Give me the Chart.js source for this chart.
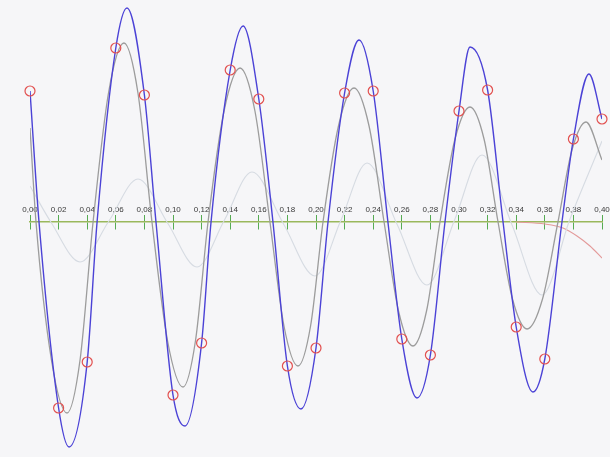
<!DOCTYPE html>
<html>
<head>
<meta charset="utf-8">
<script src="https://cdn.jsdelivr.net/npm/chart.js@4"></script>
<style>
  html, body { margin: 0; padding: 0; background: #f6f6f8; }
  #wrap { width: 610px; height: 457px; position: relative; }
</style>
</head>
<body>
<div id="wrap"><canvas id="c"></canvas></div>
<script>
// Tick labels of the time axis
const tickLabels = ['0,00','0,02','0,04','0,06','0,08','0,10','0,12','0,14','0,16','0,18','0,20',
                    '0,22','0,24','0,26','0,28','0,30','0,32','0,34','0,36','0,38','0,40'];

// Blue signal
const blueX = [0, 0.0063, 0.02, 0.0273, 0.04, 0.0469, 0.06, 0.0678, 0.08, 0.0881, 0.10, 0.1084, 0.12, 0.1266,
               0.14, 0.1490, 0.16, 0.1699, 0.18, 0.1895, 0.20, 0.2084, 0.22, 0.2301, 0.24, 0.2503, 0.26, 0.2706,
               0.28, 0.2902, 0.30, 0.3077, 0.32, 0.3308, 0.34, 0.3517, 0.36, 0.3720, 0.38, 0.3909, 0.40];
const blueY = [1.31, 0, -1.86, -2.25, -1.40, 0, 1.74, 2.14, 1.27, 0, -1.73, -2.04, -1.21, 0,
               1.52, 1.96, 1.23, 0, -1.44, -1.87, -1.26, 0, 1.29, 1.82, 1.31, 0, -1.17, -1.76,
               -1.33, 0, 1.11, 1.75, 1.32, 0, -1.05, -1.70, -1.37, 0, 0.83, 1.48, 1.03];

// Sampled points (red circles)
const sampleX = [0, 0.02, 0.04, 0.06, 0.08, 0.10, 0.12, 0.14, 0.16, 0.18, 0.20,
                 0.22, 0.24, 0.26, 0.28, 0.30, 0.32, 0.34, 0.36, 0.38, 0.40];
const sampleY = [1.31, -1.86, -1.40, 1.74, 1.27, -1.73, -1.21, 1.52, 1.23, -1.44, -1.26,
                 1.29, 1.31, -1.17, -1.33, 1.11, 1.32, -1.05, -1.37, 0.83, 1.03];

// Gray signal
const grayX = [0, 0.0042, 0.0150, 0.0259, 0.0350, 0.0441, 0.0549, 0.0657, 0.0755, 0.0853, 0.0962, 0.1070,
               0.1157, 0.1245, 0.1357, 0.1469, 0.1573, 0.1678, 0.1776, 0.1874, 0.1962, 0.2049, 0.2157,
               0.2266, 0.2371, 0.2476, 0.2577, 0.2678, 0.2773, 0.2867, 0.2972, 0.3077, 0.3175, 0.3273,
               0.3374, 0.3476, 0.3584, 0.3692, 0.3790, 0.3888, 0.40];
const grayY = [0.94, 0, -1.38, -1.91, -1.38, 0, 1.29, 1.79, 1.29, 0, -1.19, -1.65,
               -1.19, 0, 1.11, 1.54, 1.11, 0, -1.04, -1.44, -1.04, 0, 0.96,
               1.34, 0.96, 0, -0.89, -1.24, -0.89, 0, 0.83, 1.15, 0.83, 0,
               -0.77, -1.07, -0.77, 0, 0.72, 1.00, 0.62];

// Faint light signal
const lightX = [0, 0.0150, 0.0350, 0.0552, 0.0755, 0.0962, 0.1168, 0.1360, 0.1552, 0.1773, 0.1993,
                0.2175, 0.2357, 0.2566, 0.2776, 0.2969, 0.3161, 0.3371, 0.3580, 0.3776, 0.40];
const lightY = [0.36, -0.01, -0.40, 0.01, 0.43, -0.01, -0.45, 0.02, 0.50, -0.02, -0.54,
                0.02, 0.59, -0.02, -0.63, 0.02, 0.67, -0.03, -0.73, 0.03, 0.81];

// Red tail curve
const redX = [0.34, 0.3601, 0.3727, 0.3825, 0.3916, 0.40];
const redY = [0, -0.02, -0.06, -0.14, -0.24, -0.36];

const pts = (xs, ys) => xs.map((x, i) => ({ x: x, y: ys[i] }));

const axisGreen = '#9ab85c';
const tickGreen = '#56ab52';

new Chart(document.getElementById('c'), {
  type: 'line',
  data: {
    datasets: [
      {
        label: 'samples', data: pts(sampleX, sampleY), showLine: false, order: 0,
        pointRadius: 5, pointHoverRadius: 5, pointBorderWidth: 1.2,
        pointBorderColor: '#e2504f', pointBackgroundColor: 'rgba(0,0,0,0)', clip: false
      },
      {
        label: 'blue', data: pts(blueX, blueY), order: 1,
        borderColor: '#4b42d6', borderWidth: 1.4, pointRadius: 0,
        cubicInterpolationMode: 'monotone', fill: false
      },
      {
        label: 'gray', data: pts(grayX, grayY), order: 2,
        borderColor: '#9c9c9c', borderWidth: 1.3, pointRadius: 0,
        cubicInterpolationMode: 'monotone', fill: false
      },
      {
        label: 'light', data: pts(lightX, lightY), order: 3,
        borderColor: '#d6dbe2', borderWidth: 1.1, pointRadius: 0,
        cubicInterpolationMode: 'monotone', fill: false
      },
      {
        label: 'red', data: pts(redX, redY), order: 4,
        borderColor: '#e39a9a', borderWidth: 1.1, pointRadius: 0,
        cubicInterpolationMode: 'monotone', fill: false
      }
    ]
  },
  options: {
    responsive: true,
    maintainAspectRatio: false,
    devicePixelRatio: 1,
    animation: false,
    events: [],
    layout: { autoPadding: false, padding: { left: 30, right: 8, top: 0, bottom: 0 } },
    plugins: { legend: { display: false }, tooltip: { enabled: false } },
    scales: {
      y: {
        type: 'linear', display: false, min: -2.35, max: 2.22
      },
      x: {
        type: 'linear', axis: 'x', position: { y: 0 },
        min: 0, max: 0.4,
        ticks: {
          stepSize: 0.02, maxTicksLimit: 100, autoSkip: false, maxRotation: 0, minRotation: 0,
          padding: -24, color: '#3a3a3a',
          font: { family: 'Liberation Sans, Arial, sans-serif', size: 8 },
          callback: (v, i) => tickLabels[i] ?? ''
        },
        grid: { drawOnChartArea: false, drawTicks: true, tickLength: 7, color: tickGreen, lineWidth: 1 },
        border: { display: true, color: axisGreen, width: 1.5 }
      },
      x2: {
        type: 'linear', axis: 'x', position: { y: 0.07 },
        min: 0, max: 0.4,
        ticks: { display: false, stepSize: 0.02, maxTicksLimit: 100, autoSkip: false, maxRotation: 0 },
        grid: { drawOnChartArea: false, drawTicks: true, tickLength: 7, color: tickGreen, lineWidth: 1 },
        border: { display: false }
      }
    }
  }
});
</script>
</body>
</html>
